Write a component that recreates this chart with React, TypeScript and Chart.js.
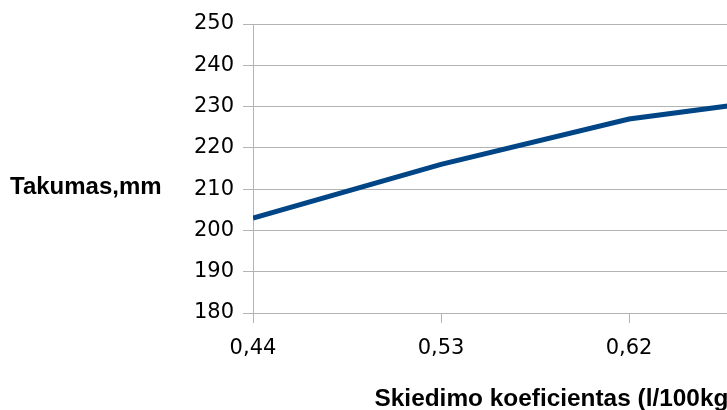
import React, { useEffect, useRef } from "react";
import { Chart, registerables } from "chart.js";

Chart.register(...registerables);

const categories: number[] = [0.44, 0.53, 0.62, 0.71];
const takumas: number[] = [203, 216, 227, 233];
const yTicks: number[] = [180, 190, 200, 210, 220, 230, 240, 250];
const yTitle = "Takumas,mm";
const xTitle = "Skiedimo koeficientas (l/100kg)";

const fmt = (v: number) => v.toFixed(2).replace(".", ",");

export default function App() {
  const ref = useRef<HTMLCanvasElement | null>(null);

  useEffect(() => {
    if (!ref.current) return;
    const yTitlePlugin = {
      id: "yTitleHoriz",
      afterDraw(chart: any) {
        const ctx = chart.ctx;
        ctx.save();
        ctx.font = "bold 24px 'Liberation Sans', Arial, sans-serif";
        ctx.fillStyle = "#000000";
        ctx.textAlign = "left";
        ctx.textBaseline = "middle";
        ctx.fillText(yTitle, 10, 187);
        ctx.restore();
      },
    };
    const chart = new Chart(ref.current, {
      type: "line",
      data: {
        datasets: [
          {
            data: categories.map((c, i) => ({ x: c, y: takumas[i] })),
            borderColor: "#004586",
            backgroundColor: "#004586",
            borderWidth: 5,
            pointRadius: 0,
            tension: 0,
            fill: false,
          },
        ],
      },
      options: {
        animation: false,
        responsive: false,
        maintainAspectRatio: false,
        layout: { padding: { left: 0, right: 0, top: 24, bottom: 0 } },
        plugins: { legend: { display: false }, tooltip: { enabled: false } },
        scales: {
          x: {
            type: "linear",
            min: 0.44,
            max: 0.7296,
            afterBuildTicks: (scale: any) => {
              scale.ticks = categories.map((v) => ({ value: v }));
            },
            afterFit: (scale: any) => {
              scale.height = 103;
            },
            grid: {
              drawOnChartArea: false,
              drawTicks: true,
              tickLength: 10,
              color: "#b3b3b3",
              lineWidth: 1,
            },
            border: { color: "#b3b3b3", width: 1 },
            ticks: {
              color: "#000000",
              padding: 13,
              maxRotation: 0,
              autoSkip: false,
              font: { family: "'DejaVu Sans', sans-serif", size: 21 },
              callback: (v: any) => fmt(Number(v)),
            },
            title: {
              display: true,
              text: xTitle,
              color: "#000000",
              font: { family: "'Liberation Sans', Arial, sans-serif", size: 24.4, weight: "bold" },
              padding: { top: 0, bottom: 2 },
            },
          },
          y: {
            min: 180,
            max: 250,
            afterBuildTicks: (scale: any) => {
              scale.ticks = yTicks.map((v) => ({ value: v }));
            },
            afterFit: (scale: any) => {
              scale.width = 253;
            },
            grid: {
              color: "#b3b3b3",
              lineWidth: 1,
              drawTicks: true,
              tickLength: 10,
            },
            border: { color: "#b3b3b3", width: 1 },
            ticks: {
              color: "#000000",
              padding: 9,
              font: { family: "'DejaVu Sans', sans-serif", size: 21 },
            },
          },
        },
      },
      plugins: [yTitlePlugin],
    });
    return () => chart.destroy();
  }, []);

  return (
    <div
      style={{
        position: "fixed",
        left: 0,
        top: 0,
        width: 727,
        height: 410,
        overflow: "hidden",
        background: "#ffffff",
      }}
    >
      <canvas ref={ref} width={858} height={416} style={{ display: "block", width: 858, height: 416 }} />
    </div>
  );
}
